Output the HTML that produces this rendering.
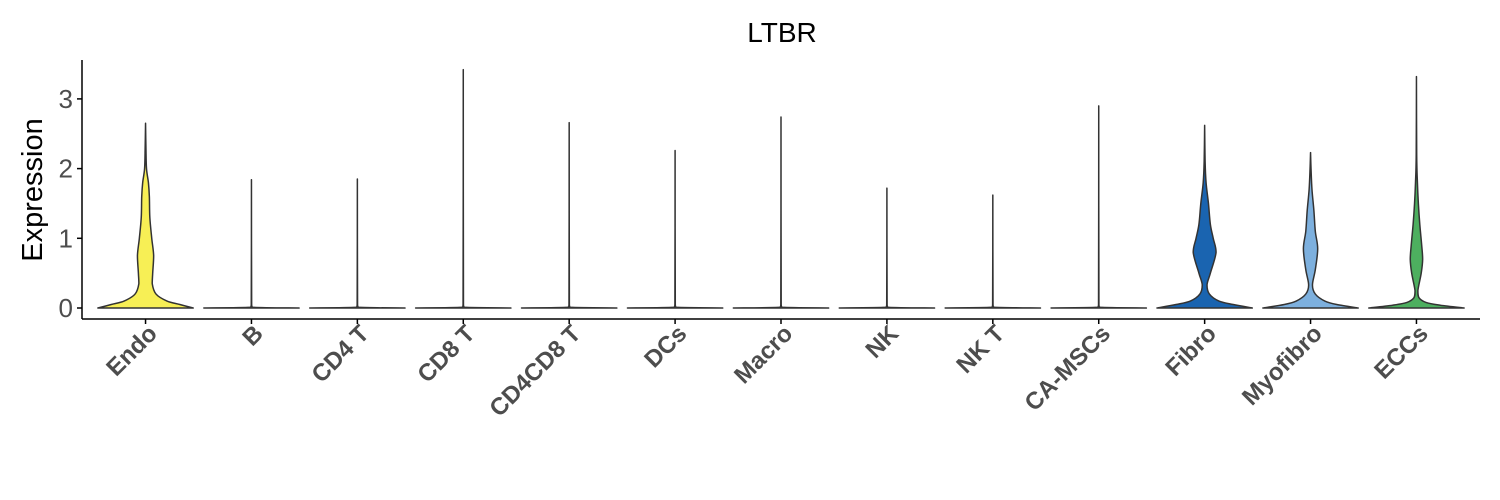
<!DOCTYPE html>
<html><head><meta charset="utf-8"><style>
html,body{margin:0;padding:0;background:#fff;}
svg{display:block;font-family:"Liberation Sans",sans-serif;}
</style></head><body>
<svg id="chart" width="1500" height="500">
<text x="782" y="42" font-size="28" text-anchor="middle" fill="#000">LTBR</text>
<text transform="translate(42,190) rotate(-90)" font-size="29" text-anchor="middle" fill="#000">Expression</text>
<g id="violins"></g>
<g id="axes"></g>
</svg>
<script>
const categories=["Endo","B","CD4 T","CD8 T","CD4CD8 T","DCs","Macro","NK","NK T","CA-MSCs","Fibro","Myofibro","ECCs"];
const colors=["#F7EF55","#cccccc","#cccccc","#cccccc","#cccccc","#cccccc","#cccccc","#cccccc","#cccccc","#cccccc","#1A64B0","#7DB0DE","#4DAF5F"];
const yTicks=[0,1,2,3];
const profEndo=[[0,1],[0.05,0.72],[0.1,0.45],[0.2,0.22],[0.35,0.14],[0.5,0.15],[0.75,0.17],[1.0,0.13],[1.3,0.09],[1.6,0.08],[1.8,0.06],[2.0,0.02],[2.3,0.008],[2.65,0]];
const profB=[[0,1],[0.01,0.03],[0.05,0.004],[1.84,0]];
const profCD4T=[[0,1],[0.01,0.03],[0.05,0.004],[1.85,0]];
const profCD8T=[[0,1],[0.01,0.03],[0.05,0.004],[3.42,0]];
const profCD4CD8T=[[0,1],[0.01,0.03],[0.05,0.004],[2.66,0]];
const profDCs=[[0,1],[0.01,0.03],[0.05,0.004],[2.26,0]];
const profMacro=[[0,1],[0.01,0.03],[0.05,0.004],[2.74,0]];
const profNK=[[0,1],[0.01,0.03],[0.05,0.004],[1.72,0]];
const profNKT=[[0,1],[0.01,0.03],[0.05,0.004],[1.62,0]];
const profCAMSC=[[0,1],[0.01,0.03],[0.05,0.004],[2.9,0]];
const profFibro=[[0,1],[0.05,0.6],[0.1,0.3],[0.2,0.1],[0.33,0.05],[0.5,0.12],[0.8,0.24],[1.0,0.18],[1.2,0.12],[1.5,0.08],[1.8,0.03],[2.1,0.01],[2.62,0]];
const profMyofibro=[[0,1],[0.05,0.55],[0.1,0.3],[0.2,0.1],[0.33,0.04],[0.55,0.1],[0.85,0.15],[1.1,0.1],[1.4,0.07],[1.7,0.03],[2.0,0.01],[2.23,0]];
const profECCs=[[0,1],[0.04,0.5],[0.08,0.2],[0.15,0.05],[0.25,0.03],[0.5,0.1],[0.7,0.13],[0.9,0.11],[1.2,0.07],[1.5,0.04],[1.8,0.02],[2.2,0.005],[3.32,0]];
const profiles=[profEndo,profB,profCD4T,profCD8T,profCD4CD8T,profDCs,profMacro,profNK,profNKT,profCAMSC,profFibro,profMyofibro,profECCs];

const L=82,R=1480,B=319,T=60;
const y0=308,pxPerUnit=69.7;
const band=(R-L)/(categories.length-1+1.2);
const xS=i=>L+(0.6+i)*band;
const yS=v=>y0-v*pxPerUnit;
const halfMax=0.45*band;
const NS="http://www.w3.org/2000/svg";
const clamp=(v,a,b)=>Math.max(Math.min(a,b),Math.min(Math.max(a,b),v));

function smooth(pts,withMove){
  let d=withMove?"M"+pts[0][0].toFixed(2)+","+pts[0][1].toFixed(2):"";
  for(let i=0;i<pts.length-1;i++){
    const p0=pts[Math.max(0,i-1)],p1=pts[i],p2=pts[i+1],p3=pts[Math.min(pts.length-1,i+2)];
    const c1=[clamp(p1[0]+(p2[0]-p0[0])/6,p1[0],p2[0]),clamp(p1[1]+(p2[1]-p0[1])/6,p1[1],p2[1])];
    const c2=[clamp(p2[0]-(p3[0]-p1[0])/6,p1[0],p2[0]),clamp(p2[1]-(p3[1]-p1[1])/6,p1[1],p2[1])];
    d+="C"+c1[0].toFixed(2)+","+c1[1].toFixed(2)+" "+c2[0].toFixed(2)+","+c2[1].toFixed(2)+" "+p2[0].toFixed(2)+","+p2[1].toFixed(2);
  }
  return d;
}
const vg=document.getElementById("violins");
profiles.forEach((pr,i)=>{
  const cx=xS(i);
  const right=pr.map(p=>[cx+p[1]*halfMax,yS(p[0])]);
  const left=pr.slice().reverse().map(p=>[cx-p[1]*halfMax,yS(p[0])]);
  const d=smooth(right,true)+"L"+left[0][0].toFixed(2)+","+left[0][1].toFixed(2)+smooth(left,false)+"Z";
  const path=document.createElementNS(NS,"path");
  path.setAttribute("d",d);
  path.setAttribute("fill",colors[i]);
  path.setAttribute("stroke","#333");
  path.setAttribute("stroke-width","1.5");
  path.setAttribute("stroke-linejoin","round");
  
  
  vg.appendChild(path);
});
const ag=document.getElementById("axes");
function line(x1,y1,x2,y2,name){
  const l=document.createElementNS(NS,"line");
  l.setAttribute("x1",x1);l.setAttribute("y1",y1);l.setAttribute("x2",x2);l.setAttribute("y2",y2);
  l.setAttribute("stroke","#000");l.setAttribute("stroke-width","1.5");
  
  
  ag.appendChild(l);
}
line(L,T,L,B,"y-axis-line");
line(L,B,R,B,"x-axis-line");
yTicks.forEach(v=>{
  line(L-5,yS(v),L,yS(v),"y-tick");
  const t=document.createElementNS(NS,"text");
  t.setAttribute("x",L-9);t.setAttribute("y",yS(v)+9);
  t.setAttribute("text-anchor","end");t.setAttribute("font-size","26");t.setAttribute("fill","#4d4d4d");
  t.textContent=v;
  
  
  ag.appendChild(t);
});
categories.forEach((c,i)=>{
  const x=xS(i);
  line(x,B,x,B+5,"x-tick");
  const t=document.createElementNS(NS,"text");
  t.setAttribute("transform","translate("+(x+13)+","+(B+16)+") rotate(-45)");
  t.setAttribute("text-anchor","end");t.setAttribute("font-size","24");t.setAttribute("font-weight","bold");t.setAttribute("fill","#4d4d4d");
  t.textContent=c;
  
  
  ag.appendChild(t);
});
</script>
</body></html>
